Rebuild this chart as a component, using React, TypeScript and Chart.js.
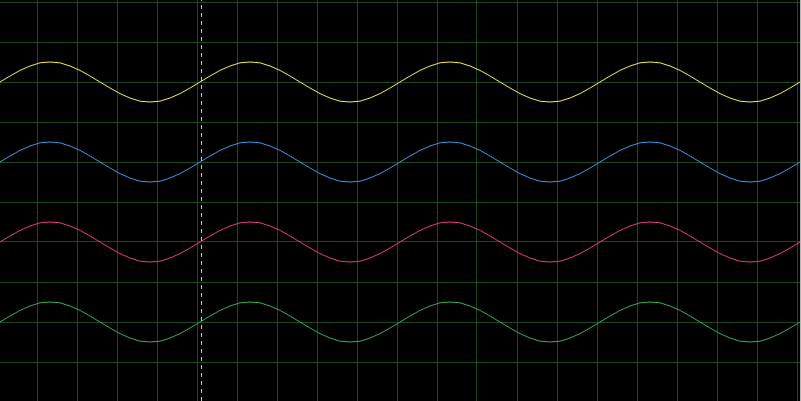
import React, { useEffect, useRef } from "react";
import { Chart, registerables } from "chart.js";

Chart.register(...registerables);

// time axis (ms)
const times = [
  0, 10, 20, 30, 40, 50, 60, 70, 80, 90, 100, 110, 120, 130, 140, 150, 160, 170, 180, 190,
  200, 210, 220, 230, 240, 250, 260, 270, 280, 290, 300, 310, 320, 330, 340, 350, 360, 370, 380, 390,
  400, 410, 420, 430, 440, 450, 460, 470, 480, 490, 500, 510, 520, 530, 540, 550, 560, 570, 580, 590,
  600, 610, 620, 630, 640, 650, 660, 670, 680, 690, 700, 710, 720, 730, 740, 750, 760, 770, 780, 790,
  800,
];

// channel traces (in divisions)
const channel1 = [
  7, 7.15, 7.29, 7.4, 7.48, 7.5, 7.48, 7.4, 7.29, 7.15, 7, 6.85, 6.71, 6.6, 6.52, 6.5, 6.52, 6.6, 6.71, 6.85,
  7, 7.15, 7.29, 7.4, 7.48, 7.5, 7.48, 7.4, 7.29, 7.15, 7, 6.85, 6.71, 6.6, 6.52, 6.5, 6.52, 6.6, 6.71, 6.85,
  7, 7.15, 7.29, 7.4, 7.48, 7.5, 7.48, 7.4, 7.29, 7.15, 7, 6.85, 6.71, 6.6, 6.52, 6.5, 6.52, 6.6, 6.71, 6.85,
  7, 7.15, 7.29, 7.4, 7.48, 7.5, 7.48, 7.4, 7.29, 7.15, 7, 6.85, 6.71, 6.6, 6.52, 6.5, 6.52, 6.6, 6.71, 6.85,
  7,
];
const channel2 = [
  5, 5.15, 5.29, 5.4, 5.48, 5.5, 5.48, 5.4, 5.29, 5.15, 5, 4.85, 4.71, 4.6, 4.52, 4.5, 4.52, 4.6, 4.71, 4.85,
  5, 5.15, 5.29, 5.4, 5.48, 5.5, 5.48, 5.4, 5.29, 5.15, 5, 4.85, 4.71, 4.6, 4.52, 4.5, 4.52, 4.6, 4.71, 4.85,
  5, 5.15, 5.29, 5.4, 5.48, 5.5, 5.48, 5.4, 5.29, 5.15, 5, 4.85, 4.71, 4.6, 4.52, 4.5, 4.52, 4.6, 4.71, 4.85,
  5, 5.15, 5.29, 5.4, 5.48, 5.5, 5.48, 5.4, 5.29, 5.15, 5, 4.85, 4.71, 4.6, 4.52, 4.5, 4.52, 4.6, 4.71, 4.85,
  5,
];
const channel3 = [
  3, 3.15, 3.29, 3.4, 3.48, 3.5, 3.48, 3.4, 3.29, 3.15, 3, 2.85, 2.71, 2.6, 2.52, 2.5, 2.52, 2.6, 2.71, 2.85,
  3, 3.15, 3.29, 3.4, 3.48, 3.5, 3.48, 3.4, 3.29, 3.15, 3, 2.85, 2.71, 2.6, 2.52, 2.5, 2.52, 2.6, 2.71, 2.85,
  3, 3.15, 3.29, 3.4, 3.48, 3.5, 3.48, 3.4, 3.29, 3.15, 3, 2.85, 2.71, 2.6, 2.52, 2.5, 2.52, 2.6, 2.71, 2.85,
  3, 3.15, 3.29, 3.4, 3.48, 3.5, 3.48, 3.4, 3.29, 3.15, 3, 2.85, 2.71, 2.6, 2.52, 2.5, 2.52, 2.6, 2.71, 2.85,
  3,
];
const channel4 = [
  1, 1.15, 1.29, 1.4, 1.48, 1.5, 1.48, 1.4, 1.29, 1.15, 1, 0.85, 0.71, 0.6, 0.52, 0.5, 0.52, 0.6, 0.71, 0.85,
  1, 1.15, 1.29, 1.4, 1.48, 1.5, 1.48, 1.4, 1.29, 1.15, 1, 0.85, 0.71, 0.6, 0.52, 0.5, 0.52, 0.6, 0.71, 0.85,
  1, 1.15, 1.29, 1.4, 1.48, 1.5, 1.48, 1.4, 1.29, 1.15, 1, 0.85, 0.71, 0.6, 0.52, 0.5, 0.52, 0.6, 0.71, 0.85,
  1, 1.15, 1.29, 1.4, 1.48, 1.5, 1.48, 1.4, 1.29, 1.15, 1, 0.85, 0.71, 0.6, 0.52, 0.5, 0.52, 0.6, 0.71, 0.85,
  1,
];

const channelNames = ["CH1", "CH2", "CH3", "CH4"];
const channelColors = ["#f2f24a", "#3a9ae8", "#e83a82", "#2eb05e"];

// grid division positions
const xGridTicks = [37, 77, 117, 157, 197, 237, 277, 317, 357, 397, 437, 477, 517, 557, 597, 637, 677, 717, 757, 797];
const yGridTicks = [0, 1, 2, 3, 4, 5, 6, 7, 8, 9];

// cursor
const cursorTime = 201.5;

const X_MIN = 0;
const X_MAX = 800;
const Y_MIN = -0.975;
const Y_MAX = 9.05;

const bgPlugin = {
  id: "scopeBg",
  beforeDraw(chart: any) {
    const ctx = chart.ctx;
    ctx.save();
    ctx.fillStyle = "#000000";
    ctx.fillRect(0, 0, chart.width, chart.height);
    ctx.restore();
  },
};

export default function App() {
  const ref = useRef<HTMLCanvasElement | null>(null);

  useEffect(() => {
    if (!ref.current) return;
    const series = [channel1, channel2, channel3, channel4];
    const datasets: any[] = series.map((s, i) => ({
      label: channelNames[i],
      data: times.map((t, j) => ({ x: t, y: s[j] })),
      borderColor: channelColors[i],
      borderWidth: 1,
      pointRadius: 0,
      tension: 0,
      fill: false,
    }));
    datasets.push({
      label: "cursor",
      data: [
        { x: cursorTime, y: Y_MIN },
        { x: cursorTime, y: Y_MAX },
      ],
      borderColor: "#c8c8c8",
      borderWidth: 1,
      borderDash: [4, 4],
      pointRadius: 0,
      fill: false,
    });

    const chart = new Chart(ref.current, {
      type: "line",
      data: { datasets },
      options: {
        animation: false,
        responsive: false,
        maintainAspectRatio: false,
        devicePixelRatio: 1,
        layout: { padding: 0, autoPadding: false } as any,
        plugins: {
          legend: { display: false },
          tooltip: { enabled: false },
          title: { display: false },
        },
        scales: {
          x: {
            type: "linear",
            min: X_MIN,
            max: X_MAX,
            ticks: { display: false },
            border: { display: false },
            grid: { color: "#1c4a1c", lineWidth: 1, drawTicks: false },
            afterBuildTicks: (scale: any) => {
              scale.ticks = xGridTicks.map((v) => ({ value: v }));
            },
          },
          y: {
            type: "linear",
            min: Y_MIN,
            max: Y_MAX,
            ticks: { display: false },
            border: { display: false },
            grid: { color: "#1c4a1c", lineWidth: 1, drawTicks: false },
            afterBuildTicks: (scale: any) => {
              scale.ticks = yGridTicks.map((v) => ({ value: v }));
            },
          },
        },
      },
      plugins: [bgPlugin],
    });
    return () => chart.destroy();
  }, []);

  return (
    <div
      style={{
        position: "fixed",
        left: 0,
        top: 0,
        width: 801,
        height: 401,
        background: "#b8b8b8",
      }}
    >
      <canvas ref={ref} width={800} height={401} style={{ display: "block", width: 800, height: 401 }} />
    </div>
  );
}
